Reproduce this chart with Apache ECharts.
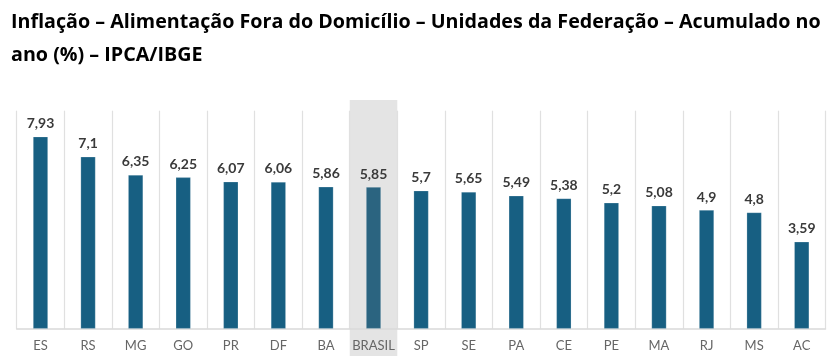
<!DOCTYPE html>
<html><head><meta charset="utf-8">
<script src="https://cdn.jsdelivr.net/npm/echarts@6/dist/echarts.min.js"></script>
<style>html,body{margin:0;padding:0;background:#fff}#c{width:832px;height:356px}</style>
</head><body><div id="c"></div>
<script>
const categories = ['ES','RS','MG','GO','PR','DF','BA','BRASIL','SP','SE','PA','CE','PE','MA','RJ','MS','AC'];
const values = [7.93,7.1,6.35,6.25,6.07,6.06,5.86,5.85,5.7,5.65,5.49,5.38,5.2,5.08,4.9,4.8,3.59];
const highlight = 'BRASIL';
const titleLines = ['Inflação – Alimentação Fora do Domicílio – Unidades da Federação – Acumulado no', 'ano (%) – IPCA/IBGE'];

const chart = echarts.init(document.getElementById('c'), null, {renderer:'canvas'});
const grid = {left:16.7, right:6.5, top:110.7, bottom:27.3};
chart.setOption({
  animation:false,
  title:{text:titleLines.join('\n'), left:6, top:1,
    textStyle:{fontFamily:'Open Sans', fontWeight:'bold', fontSize:19.7, color:'#000', lineHeight:33}},
  grid:grid,
  xAxis:{type:'category', data:categories, z:3,
    axisLine:{lineStyle:{color:'#d9d9d9', width:1.5}},
    axisTick:{show:false, interval:0},
    splitLine:{show:true, interval:0, lineStyle:{color:'#e0e0e0', width:1.2}},
    axisLabel:{interval:0, fontFamily:'Lato', fontSize:13, color:'#666', margin:11}},
  yAxis:{type:'value', min:0, max:9, show:false, splitLine:{show:false}},
  series:[{type:'bar', barWidth:15, z:4,
    data: values.map((v,i)=>({value:v, itemStyle:{color: categories[i]===highlight ? '#2b6480' : '#175f82'}})),
    itemStyle:{borderColor:'rgba(255,255,255,0.35)', borderWidth:0.6},
    label:{show:true, position:'top', distance:6, fontFamily:'Lato', fontWeight:'bold', fontSize:14, color:'#3a3a3a',
      formatter:p=>String(p.value).replace('.',',')}}]
});
function addBand(){
  const idx = categories.indexOf(highlight);
  const x0 = chart.convertToPixel({xAxisIndex:0}, categories[idx]);
  const step = chart.convertToPixel({xAxisIndex:0}, categories[1]) - chart.convertToPixel({xAxisIndex:0}, categories[0]);
  chart.setOption({graphic:[{type:'rect', z:1, silent:true,
    shape:{x:x0-step/2, y:100, width:step, height:256},
    style:{fill:'#e4e4e4'}}]});
}
addBand();
</script></body></html>
